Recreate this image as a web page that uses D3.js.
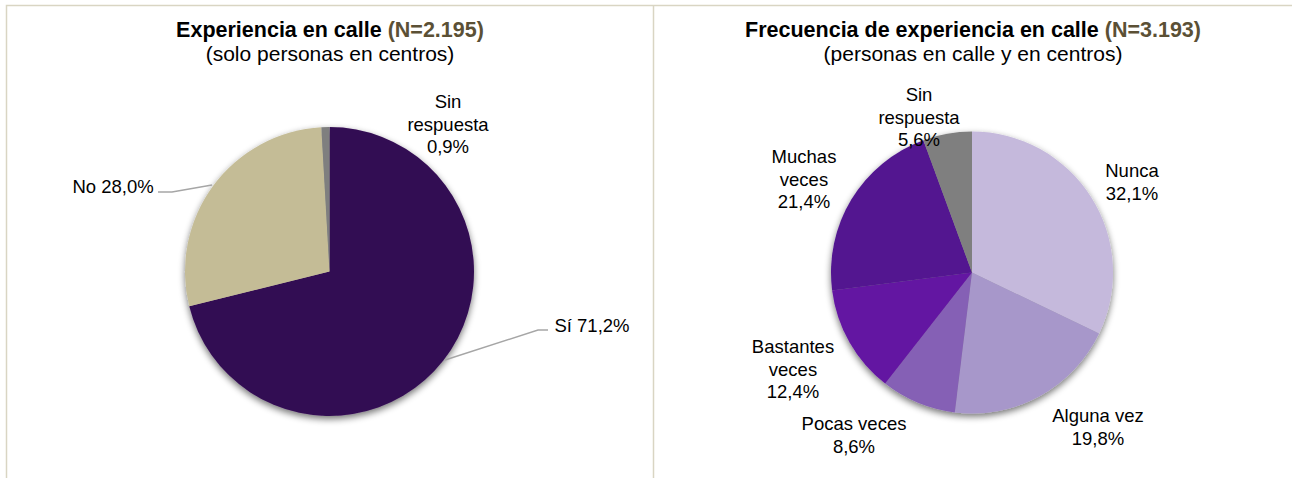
<!DOCTYPE html>
<html>
<head>
<meta charset="utf-8">
<script src="https://cdn.jsdelivr.net/npm/d3@7"></script>
<style>
body { margin: 0; background: #fff; }
svg { display: block; font-family: "Liberation Sans", Arial, sans-serif; }
</style>
</head>
<body>
<svg width="1292" height="478"></svg>
<script>
// left chart
var leftCats = ["Sí", "No", "Sin respuesta"];
var leftVals = [71.2, 28.0, 0.9];
var leftColors = ["#330a52", "#c4bc96", "#7f7f7f"];

// right chart
var rightCats = ["Nunca", "Alguna vez", "Pocas veces", "Bastantes veces", "Muchas veces", "Sin respuesta"];
var rightVals = [32.1, 19.8, 8.6, 12.4, 21.4, 5.6];
var rightColors = ["#c5b9dc", "#a797ca", "#8560b5", "#6414a2", "#521990", "#7f7f7f"];

var svg = d3.select("svg");
var fmt = function(v) { return v.toFixed(1).replace(".", ",") + "%"; };

var defs = svg.append("defs");
var f = defs.append("filter").attr("id", "shadow")
    .attr("x", "-20%").attr("y", "-20%").attr("width", "140%").attr("height", "140%");
f.append("feGaussianBlur").attr("in", "SourceAlpha").attr("stdDeviation", 3.5);
f.append("feOffset").attr("dx", 0).attr("dy", 3).attr("result", "b");
f.append("feComponentTransfer").append("feFuncA").attr("type", "linear").attr("slope", 0.55);
var m = f.append("feMerge");
m.append("feMergeNode");
m.append("feMergeNode").attr("in", "SourceGraphic");

// panel borders
svg.append("path")
    .attr("d", "M6.5,478V5.5H1300M653.5,5.5V478")
    .attr("fill", "none")
    .attr("stroke", "#d9d5c3")
    .attr("stroke-width", 1.5);

function title(cx, bold, n, sub) {
    var t = svg.append("text").attr("x", cx).attr("y", 37)
        .attr("text-anchor", "middle").attr("font-size", 21.5).attr("font-weight", "bold");
    t.append("tspan").attr("fill", "#000").text(bold + " ");
    t.append("tspan").attr("fill", "#5b5035").text(n);
    svg.append("text").attr("x", cx).attr("y", 61)
        .attr("text-anchor", "middle").attr("font-size", 21).attr("fill", "#000").text(sub);
}

function drawPie(cx, cy, r, vals, colors) {
    var pie = d3.pie().sort(null).value(function(d) { return d; });
    var arc = d3.arc().innerRadius(0).outerRadius(r);
    var g = svg.append("g").attr("transform", "translate(" + cx + "," + cy + ")")
        .attr("filter", "url(#shadow)");
    g.selectAll("path").data(pie(vals)).enter().append("path")
        .attr("d", arc)
        .attr("fill", function(d, i) { return colors[i]; });
    return pie(vals);
}

function label(x, y, lines) {
    var t = svg.append("text").attr("text-anchor", "middle").attr("font-size", 18.5).attr("fill", "#000");
    lines.forEach(function(s, i) {
        t.append("tspan").attr("x", x).attr("y", y + i * 22.5).text(s);
    });
}

title(330, "Experiencia en calle", "(N=2.195)", "(solo personas en centros)");
title(973, "Frecuencia de experiencia en calle", "(N=3.193)", "(personas en calle y en centros)");

drawPie(329.5, 271.5, 144.5, leftVals, leftColors);
drawPie(972, 272.5, 141, rightVals, rightColors);

// leader lines on left chart
svg.append("polyline").attr("points", "158,192 172,192 212,185")
    .attr("fill", "none").attr("stroke", "#a6a6a6").attr("stroke-width", 1.5);
svg.append("polyline").attr("points", "548,330 538,330 445,360")
    .attr("fill", "none").attr("stroke", "#a6a6a6").attr("stroke-width", 1.5);

label(592, 332, [leftCats[0] + " " + fmt(leftVals[0])]);
label(113, 193, [leftCats[1] + " " + fmt(leftVals[1])]);
label(448, 108, ["Sin", "respuesta", fmt(leftVals[2])]);

label(1132, 177, [rightCats[0], fmt(rightVals[0])]);
label(1098, 422, [rightCats[1], fmt(rightVals[1])]);
label(854, 430, [rightCats[2], fmt(rightVals[2])]);
label(793, 353, ["Bastantes", "veces", fmt(rightVals[3])]);
label(804, 163, ["Muchas", "veces", fmt(rightVals[4])]);
label(919, 101, ["Sin", "respuesta", fmt(rightVals[5])]);
</script>
</body>
</html>
